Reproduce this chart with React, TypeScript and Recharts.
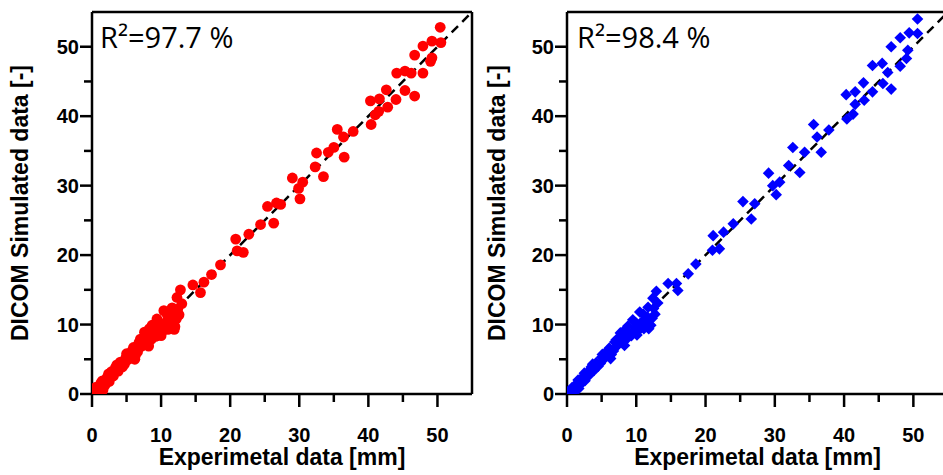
import React from "react";
import {
  ScatterChart,
  Scatter,
  XAxis,
  YAxis,
  ReferenceLine,
} from "recharts";

// axis ticks (every 5, labelled every 10)
const axisTicks = [0, 5, 10, 15, 20, 25, 30, 35, 40, 45, 50];
const axisDomain = [0, 55];
const identityLine = [
  { x: 0, y: 0 },
  { x: 55, y: 55 },
];

const xLabel = "Experimetal data [mm]";
const yLabel = "DICOM Simulated data [-]";
const r2Left = "R²=97.7 %";
const r2Right = "R²=98.4 %";

// left panel: experimental vs simulated (red circles)
const redPoints = [
  [0.2, 0.4], [0.6, 1.0], [1.0, 0.3], [1.3, 1.6], [1.6, 0.6], [1.9, 1.3], [2.2, 2.4], [2.5, 1.8],
  [2.8, 3.2], [3.1, 2.6], [3.4, 3.8], [3.8, 3.3], [4.1, 4.6], [4.4, 3.9], [4.7, 4.3], [5.0, 5.8],
  [5.3, 5.0], [5.6, 5.4], [6.0, 6.7], [6.3, 5.6], [6.6, 6.1], [7.0, 7.9], [7.2, 6.9], [7.5, 7.3],
  [7.8, 8.4], [8.0, 7.4], [8.3, 9.4], [8.6, 7.9], [8.9, 8.6], [9.2, 8.3], [9.4, 10.8], [9.6, 9.0],
  [9.9, 9.5], [10.1, 8.9], [10.4, 12.0], [10.5, 9.8], [10.8, 10.4], [11.0, 9.3], [11.3, 10.1], [11.5, 11.0],
  [11.8, 10.5], [12.0, 9.7], [12.3, 13.9], [12.4, 12.2], [12.6, 11.4], [12.8, 15.0], [13.0, 13.0], [12.2, 10.8],
  [11.6, 12.4], [10.9, 11.4], [9.8, 10.2], [8.7, 9.9], [7.6, 8.9], [6.8, 7.4], [5.8, 6.2], [4.9, 5.2],
  [3.6, 4.2], [2.4, 2.9], [1.5, 1.9], [0.8, 0.8], [8.2, 6.9], [10.0, 8.4], [6.2, 5.0], [11.9, 9.3],
  [14.6, 15.7], [15.7, 14.6], [16.2, 16.1], [17.3, 17.2], [18.6, 18.6], [20.8, 22.3], [21.0, 20.6], [21.9, 20.4],
  [22.7, 23.0], [24.4, 24.4], [25.4, 27.0], [26.3, 24.6], [26.7, 27.5], [27.3, 27.3], [29.0, 31.1], [29.9, 29.6],
  [30.1, 28.1], [30.5, 30.5], [32.3, 32.7], [32.5, 34.7], [33.5, 31.3], [34.2, 34.8], [35.0, 35.5], [35.5, 38.1],
  [36.4, 37.0], [36.5, 34.1], [37.8, 37.8], [40.3, 42.2], [40.4, 38.8], [41.0, 40.2], [41.5, 40.7], [41.6, 42.5],
  [42.6, 43.8], [42.8, 41.3], [44.0, 42.4], [44.1, 46.2], [45.3, 46.5], [45.3, 43.7], [46.2, 46.2], [46.7, 42.9],
  [46.7, 48.8], [47.9, 46.2], [47.9, 50.1], [49.0, 47.9], [49.2, 48.4], [49.2, 50.8], [50.5, 50.6], [50.4, 52.8],
];

// right panel: experimental vs simulated (blue diamonds)
const bluePoints = [
  [0.3, 0.2], [0.7, 0.9], [1.1, 0.4], [1.4, 1.5], [1.7, 0.8], [2.0, 1.4], [2.3, 2.5], [2.6, 1.9],
  [2.9, 3.1], [3.2, 2.7], [3.5, 3.9], [3.9, 3.4], [4.2, 4.5], [4.5, 4.0], [4.8, 4.4], [5.1, 5.7],
  [5.4, 5.1], [5.7, 5.5], [6.1, 6.6], [6.4, 5.7], [6.7, 6.2], [7.1, 7.8], [7.3, 7.0], [7.6, 7.4],
  [7.9, 8.5], [8.1, 7.5], [8.4, 9.3], [8.7, 8.0], [9.0, 8.7], [9.3, 8.4], [9.5, 10.7], [9.7, 9.1],
  [10.0, 9.6], [10.2, 9.0], [10.5, 11.8], [10.6, 9.9], [10.9, 10.5], [11.1, 9.4], [11.4, 10.2], [11.6, 11.1],
  [11.9, 10.6], [12.1, 9.9], [12.4, 13.8], [12.5, 12.3], [12.7, 11.5], [12.9, 14.8], [13.1, 13.1], [12.3, 10.9],
  [11.7, 12.5], [11.0, 11.5], [9.9, 10.3], [8.8, 9.8], [7.7, 8.8], [6.9, 7.5], [5.9, 6.3], [5.0, 5.3],
  [3.7, 4.3], [2.5, 3.0], [1.6, 2.0], [0.9, 0.7], [8.3, 7.0], [10.1, 8.5], [6.3, 5.1], [11.8, 9.4],
  [14.6, 15.9], [15.8, 15.9], [16.0, 14.9], [17.5, 17.3], [18.6, 18.7], [21.1, 22.8], [21.0, 20.7], [22.0, 20.9],
  [22.6, 23.3], [24.0, 24.5], [25.4, 27.7], [26.6, 25.2], [27.1, 27.4], [29.1, 31.8], [29.7, 30.0], [30.2, 28.7],
  [30.7, 30.5], [32.0, 32.9], [32.6, 35.5], [33.6, 31.9], [34.3, 34.8], [35.6, 38.8], [36.1, 37.0], [36.7, 34.8],
  [37.8, 38.0], [40.3, 43.1], [40.4, 39.6], [41.3, 40.3], [41.6, 41.7], [41.6, 43.5], [42.8, 44.8], [42.9, 42.3],
  [44.1, 43.5], [44.1, 47.3], [45.5, 47.6], [45.6, 44.7], [46.3, 46.3], [46.8, 43.9], [46.8, 50.0], [48.1, 47.2],
  [48.1, 51.3], [49.0, 48.3], [49.2, 49.5], [49.4, 52.0], [50.6, 51.9], [50.6, 54.0],
];

const toRows = (pts: number[][]) => pts.map(([x, y]) => ({ x, y }));

const tickFont = "'Liberation Sans', Arial, sans-serif";

const XTick = (props: any) => {
  const { x, y, payload } = props;
  const major = payload.value % 10 === 0;
  return (
    <g>
      <line x1={x} x2={x} y1={y} y2={y + (major ? 13 : 8)} stroke="#000" strokeWidth={2.5} />
      {major && (
        <text x={x} y={y + 48} textAnchor="middle" fontFamily={tickFont} fontWeight="bold" fontSize={20} fill="#000">
          {payload.value}
        </text>
      )}
    </g>
  );
};

const YTick = (props: any) => {
  const { x, y, payload } = props;
  const major = payload.value % 10 === 0;
  return (
    <g>
      <line x1={x - (major ? 12 : 8)} x2={x} y1={y} y2={y} stroke="#000" strokeWidth={2.5} />
      {major && (
        <text x={x - 13} y={y} dy="0.36em" textAnchor="end" fontFamily={tickFont} fontWeight="bold" fontSize={20} fill="#000">
          {payload.value}
        </text>
      )}
    </g>
  );
};

const RedDot = (p: any) => <circle cx={p.cx} cy={p.cy} r={5.4} fill="#ff0000" />;

const BlueDiamond = (p: any) => {
  const s = 5.8;
  return (
    <polygon
      points={`${p.cx},${p.cy - s} ${p.cx + s},${p.cy} ${p.cx},${p.cy + s} ${p.cx - s},${p.cy}`}
      fill="#0000ff"
    />
  );
};

const labelStyle = { fontFamily: tickFont, fontWeight: "bold" as const, fontSize: 23, fill: "#000" };

function Panel({ rows, shape, yAxisWidth, yLabelOffset }: any) {
  return (
    <ScatterChart width={480} height={475} margin={{ top: 12, right: 8, left: 0, bottom: 0 }}>
      <XAxis
        type="number"
        dataKey="x"
        domain={axisDomain}
        ticks={axisTicks}
        allowDataOverflow
        height={81}
        tickLine={false}
        tickSize={0}
        tickMargin={0}
        axisLine={{ stroke: "#000", strokeWidth: 2.5 }}
        tick={<XTick />}
        interval={0}
        label={{ value: xLabel, position: "insideBottom", offset: 10, style: labelStyle }}
      />
      <YAxis
        type="number"
        dataKey="y"
        domain={axisDomain}
        ticks={axisTicks}
        allowDataOverflow
        width={yAxisWidth}
        tickLine={false}
        tickSize={0}
        tickMargin={0}
        axisLine={{ stroke: "#000", strokeWidth: 2.5 }}
        tick={<YTick />}
        interval={0}
        label={{
          value: yLabel,
          angle: -90,
          position: "insideLeft",
          offset: yLabelOffset,
          style: { ...labelStyle, textAnchor: "middle" },
        }}
      />
      <Scatter data={rows} shape={shape} isAnimationActive={false} />
      <ReferenceLine
        segment={identityLine}
        stroke="#000"
        strokeWidth={2.5}
        strokeDasharray="9 6"
      />
      <ReferenceLine y={55} stroke="#000" strokeWidth={2.5} />
      <ReferenceLine x={55} stroke="#000" strokeWidth={2.5} />
    </ScatterChart>
  );
}

const r2Style: React.CSSProperties = {
  position: "absolute",
  top: 22,
  fontFamily: "'Open Sans', sans-serif",
  fontSize: 29,
  lineHeight: 1,
  color: "#000",
  whiteSpace: "nowrap",
};

export default function App() {
  return (
    <div
      style={{
        position: "fixed",
        left: 0,
        top: 0,
        width: 943,
        height: 475,
        overflow: "hidden",
        background: "#fff",
      }}
    >
      <div style={{ position: "absolute", left: 0, top: 0 }}>
        <Panel rows={toRows(redPoints)} shape={RedDot} yAxisWidth={92} yLabelOffset={20} />
      </div>
      <div style={{ position: "absolute", left: 476, top: 0 }}>
        <Panel rows={toRows(bluePoints)} shape={BlueDiamond} yAxisWidth={91} yLabelOffset={21} />
      </div>
      <div style={{ ...r2Style, left: 100 }}>{r2Left}</div>
      <div style={{ ...r2Style, left: 577 }}>{r2Right}</div>
    </div>
  );
}
